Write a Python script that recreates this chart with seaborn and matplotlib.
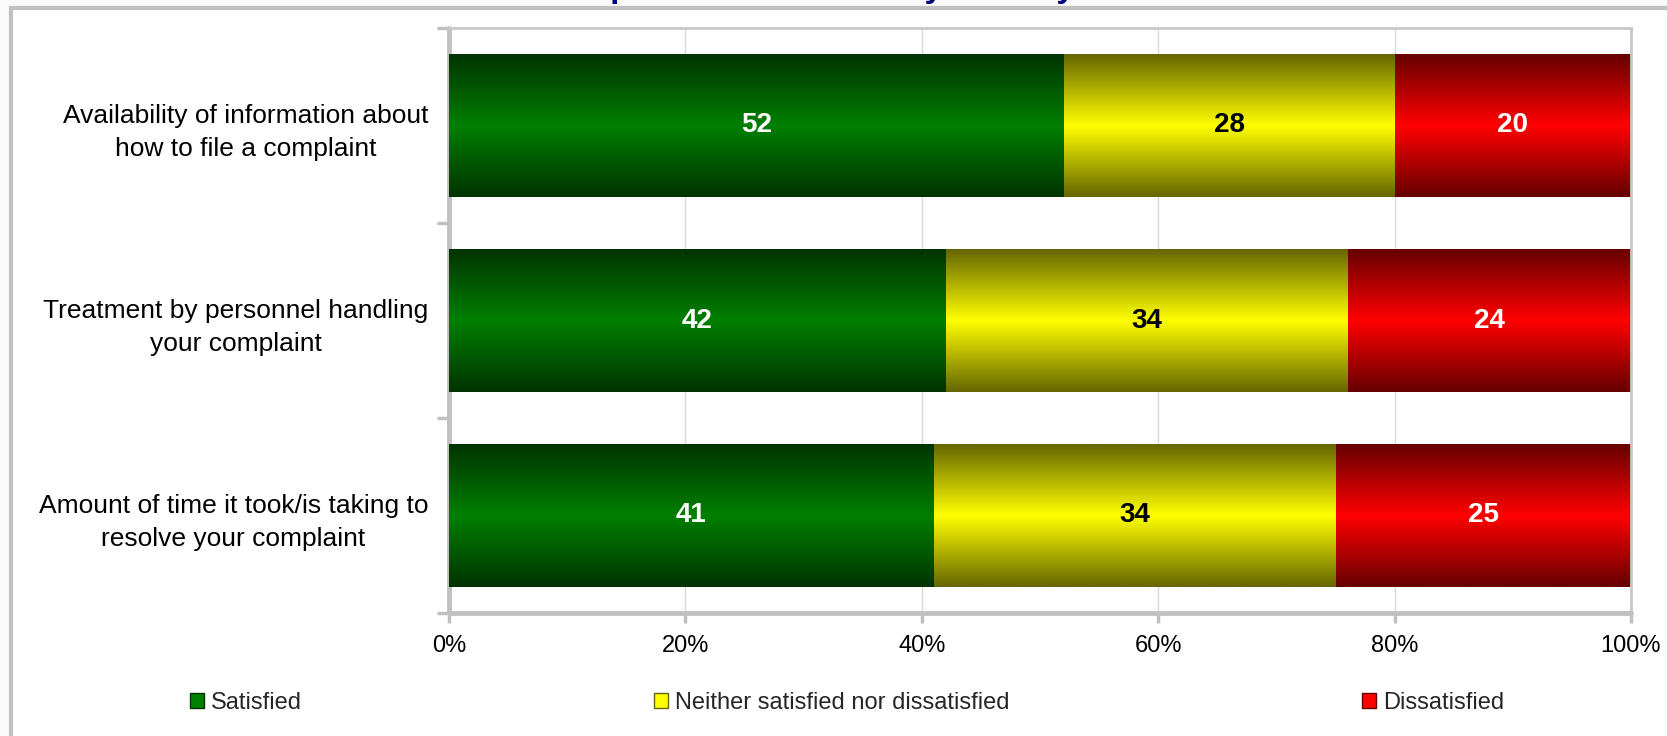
import numpy as np
import pandas as pd
import matplotlib
matplotlib.use("Agg")
import matplotlib.pyplot as plt
import seaborn as sns
from matplotlib.patches import Patch, Rectangle

# Daten
categories = [
    "Availability of information about\nhow to file a complaint",
    "Treatment by personnel handling\nyour complaint",
    "Amount of time it took/is taking to\nresolve your complaint",
]
satisfied = [52, 42, 41]
neither = [28, 34, 34]
dissatisfied = [20, 24, 25]
series_names = ["Satisfied", "Neither satisfied nor dissatisfied", "Dissatisfied"]
x_ticks = [0, 20, 40, 60, 80, 100]
x_tick_labels = ["0%", "20%", "40%", "60%", "80%", "100%"]
title = "Complaint satisfaction by country"

# Farben (Verlauf: Rand dunkel, Mitte hell)
edge_colors = ["#003300", "#666600", "#660000"]
mid_colors = ["#008000", "#FFFF00", "#FF0000"]
text_colors = ["white", "black", "white"]

sns.set_theme(style="white")
plt.rcParams["font.family"] = ["Liberation Sans", "DejaVu Sans"]

df = pd.DataFrame({"category": categories, "Satisfied": satisfied,
                   "Neither": neither, "Dissatisfied": dissatisfied})
values = df[["Satisfied", "Neither", "Dissatisfied"]].to_numpy().T
cum = np.cumsum(values, axis=0)


def gradient(edge, mid, n=128):
    e = np.array(matplotlib.colors.to_rgb(edge))
    m = np.array(matplotlib.colors.to_rgb(mid))
    t = np.abs(np.linspace(-1, 1, n))[:, None]
    return (m * (1 - t) + e * t)[:, None, :]


fig = plt.figure(figsize=(16.67, 7.36), dpi=100, facecolor="#FAFAFA")
fig.patches.append(Rectangle((11 / 1667, -0.05), 1.2, 1 - 7.5 / 736 + 0.05,
                             transform=fig.transFigure, facecolor="white",
                             edgecolor="#C0C0C0", lw=3, zorder=-1))
ax = fig.add_axes([449 / 1667, 1 - 613 / 736, (1631 - 449) / 1667, (613 - 28) / 736])
ax.set_facecolor("white")

# gestapelte Balken: zuerst die längste Summe, dann darüber die kürzeren
for i in reversed(range(3)):
    n_before = len(ax.patches)
    sns.barplot(x=cum[i], y=categories, order=categories, orient="h",
                width=0.73, color=mid_colors[i], ax=ax)
    img = gradient(edge_colors[i], mid_colors[i])
    for p in ax.patches[n_before:]:
        x0, y0 = p.get_x(), p.get_y()
        ax.imshow(img, extent=(x0, x0 + p.get_width(), y0 + p.get_height(), y0),
                  aspect="auto", zorder=2 + (2 - i), interpolation="bilinear")
        p.set_visible(False)

for i in range(3):
    for j in range(len(categories)):
        ax.text(cum[i][j] - values[i][j] / 2, j, str(values[i][j]), ha="center",
                va="center", fontsize=20, fontweight="bold", color=text_colors[i],
                zorder=10)

ax.set_xlim(0, 100)
ax.set_ylim(2.5, -0.5)
ax.set_xticks(x_ticks)
ax.set_xticklabels(x_tick_labels)
ax.set_yticks(range(len(categories)))
ax.set_yticklabels(categories, multialignment="center", linespacing=1.45)
ax.set_yticks([-0.5, 0.5, 1.5, 2.5], minor=True)
ax.set_xlabel("")
ax.set_ylabel("")

ax.set_axisbelow(True)
ax.xaxis.grid(True, color="#D9D9D9", lw=1)
ax.yaxis.grid(False)

for side in ["left", "bottom"]:
    ax.spines[side].set_color("#C0C0C0")
    ax.spines[side].set_linewidth(3.5)
    ax.spines[side].set_capstyle("round")
for side in ["top", "right"]:
    ax.spines[side].set_color("#C8C8C8")
    ax.spines[side].set_linewidth(2)
    ax.spines[side].set_visible(True)

ax.tick_params(axis="x", which="major", direction="out", length=7, width=2.5,
               color="#C0C0C0", labelcolor="black", labelsize=17, pad=9, bottom=True)
ax.tick_params(axis="y", which="major", length=0, labelsize=19, labelcolor="black", pad=15)
ax.tick_params(axis="y", which="minor", direction="out", length=9, width=2.5,
               color="#C0C0C0", left=True)

# Titel (oben abgeschnitten wie im Original)
fig.text(0.4835, 1 + 3.5 / 736, title, ha="center", va="baseline", fontsize=24,
         fontweight="bold", color="#000080")

handles = [Patch(facecolor=mid_colors[k], edgecolor=edge_colors[k], lw=1)
           for k in range(3)]
fig.legend(handles, series_names, loc="center left", bbox_to_anchor=(190 / 1667, 0.045),
           ncol=3, frameon=False, fontsize=17, handlelength=0.6, handleheight=0.55,
           handletextpad=0.3, columnspacing=14.9, borderpad=0, borderaxespad=0)

fig.savefig("out.png", dpi=100, facecolor=fig.get_facecolor())
plt.close()
